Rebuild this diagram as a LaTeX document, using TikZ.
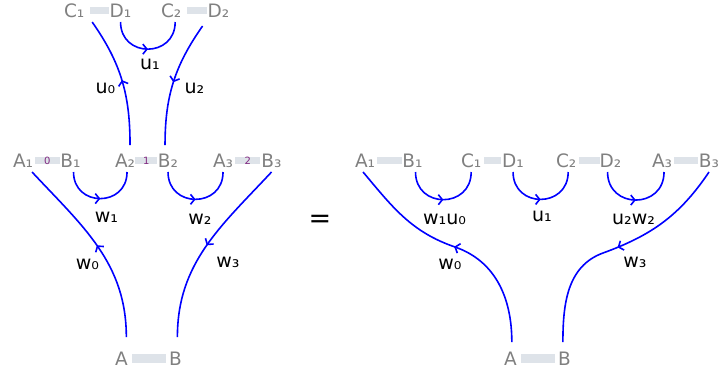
\documentclass[tikz,border=0pt]{standalone}
\usepackage{fontspec}
\setmainfont{DejaVu Sans}
\usepackage{xcolor}
\usetikzlibrary{arrows.meta,positioning,decorations.markings}
\definecolor{lblgray}{RGB}{128,128,128}
\definecolor{bondfill}{RGB}{222,227,233}
\definecolor{idxpurple}{RGB}{128,40,128}

\begin{document}
\begin{tikzpicture}[
  x=1pt, y=1pt,
  lbl/.style={text=lblgray, font=\fontsize{18.5}{20}\selectfont, inner sep=0pt,
              text height=13pt, text depth=0pt, outer xsep=0pt, outer ysep=5pt},
  bond/.style={fill=bondfill, inner sep=0pt, minimum height=7.5pt,
               text=idxpurple, font=\fontsize{10}{10}\selectfont},
  tag/.style={font=\fontsize{19}{21}\selectfont, inner sep=0pt, anchor=base},
  leg/.style={blue, line width=1.6pt},
  midar/.style={leg, postaction={decorate}, decoration={markings,
      mark=at position 0.5 with {\arrow{Straight Barb[length=4pt,width=10pt,line width=1.6pt]}}}},
  cup/.style={midar, out=-90, in=-90, looseness=1.7},
]
\useasboundingbox (0,0) rectangle (720,-376);

% ---------------- left side: u layer on top of w layer ----------------
\node[lbl, anchor=base west] (lC1) at (64,-17) {C₁};
\node[bond, minimum width=19pt, right=5pt of lC1] (lcd1) {};
\node[lbl, right=1pt of lcd1] (lD1) {D₁};
\node[lbl, anchor=base west] (lC2) at (161,-17) {C₂};
\node[bond, minimum width=20pt, right=5pt of lC2] (lcd2) {};
\node[lbl, right=1pt of lcd2] (lD2) {D₂};

\node[lbl, anchor=base west] (lA1) at (13,-167) {A₁};
\node[bond, minimum width=25pt, right=1.5pt of lA1] (lb0) {0};
\node[lbl, right=0.5pt of lb0] (lB1) {B₁};
\node[lbl, anchor=base west] (lA2) at (115,-167) {A₂};
\node[bond, minimum width=22pt, right=0pt of lA2] (lb1) {1};
\node[lbl, right=0.5pt of lb1] (lB2) {B₂};
\node[lbl, anchor=base west] (lA3) at (213,-167) {A₃};
\node[bond, minimum width=25pt, right=2pt of lA3] (lb2) {2};
\node[lbl, right=1pt of lb2] (lB3) {B₃};

\node[lbl, anchor=base west] (lA) at (115,-365) {A};
\node[bond, minimum width=34pt, minimum height=9pt, right=4pt of lA] (lab) {};
\node[lbl, right=3pt of lab] (lB) {B};

\draw[midar] ([xshift=5pt,yshift=4pt]lA2.north) to[out=90, in=-55]
  ([xshift=18pt]lC1.south);
\draw[midar] ([xshift=-16pt,yshift=-4pt]lD2.south) to[out=-125, in=90]
  ([xshift=-3pt,yshift=4pt]lB2.north);
\draw[cup] (lD1.south) to ([xshift=4pt]lC2.south);
\draw[cup] ([xshift=3pt]lB1.south) to ([xshift=2pt]lA2.south);
\draw[cup] (lB2.south) to (lA3.south);
\draw[midar] ([xshift=5pt,yshift=10pt]lA.north) to[out=90, in=-47]
  ([xshift=9pt]lA1.south);
\draw[midar] (lB3.south) to[out=-133, in=90]
  ([xshift=2pt,yshift=10pt]lB.north);

\node[tag] (lu0) at (105.5,-93) {u₀};
\node[tag] (lu1) at (150,-69) {u₁};
\node[tag] (lu2) at (194.5,-93) {u₂};
\node[tag] (lw1) at (106.5,-222.5) {w₁};
\node[tag] (lw2) at (200,-224) {w₂};
\node[tag] (lw0) at (87.5,-269.5) {w₀};
\node[tag] (lw3) at (228,-267) {w₃};

\node[font=\fontsize{27}{30}\selectfont, inner sep=0pt] (eq) at (320,-221) {=};

% ---------------- right side: contracted ----------------
\node[lbl, anchor=base west] (rA1) at (355,-167) {A₁};
\node[bond, minimum width=25pt, right=1.5pt of rA1] (rb1) {};
\node[lbl, right=0.5pt of rb1] (rB1) {B₁};
\node[lbl, anchor=base west] (rC1) at (461,-167) {C₁};
\node[bond, minimum width=17pt, right=2.5pt of rC1] (rcd1) {};
\node[lbl, right=1pt of rcd1] (rD1) {D₁};
\node[lbl, anchor=base west] (rC2) at (556,-167) {C₂};
\node[bond, minimum width=21pt, right=2pt of rC2] (rcd2) {};
\node[lbl, right=0pt of rcd2] (rD2) {D₂};
\node[lbl, anchor=base west] (rA3) at (652,-167) {A₃};
\node[bond, minimum width=24pt, right=2pt of rA3] (rb3) {};
\node[lbl, right=0.5pt of rb3] (rB3) {B₃};

\node[lbl, anchor=base west] (rA) at (504,-365) {A};
\node[bond, minimum width=34pt, minimum height=9pt, right=4pt of rA] (rab) {};
\node[lbl, right=3pt of rab] (rB) {B};

\coordinate (w0bend) at (455,-247);
\coordinate (w3bend) at (603,-253);

\draw[cup] ([xshift=3pt]rB1.south) to (rC1.south);
\draw[cup] (rD1.south) to ([xshift=2pt]rC2.south);
\draw[cup] ([xshift=-3pt]rD2.south) to ([xshift=2pt]rA3.south);
\draw[midar] ([xshift=1.5pt,yshift=5pt]rA.north) to[out=90, in=-19] (w0bend)
  to[out=161, in=-50] ([xshift=-2pt]rA1.south);
\draw[midar] (rB3.south) to[out=-124, in=20] (w3bend)
  to[out=-160, in=90] ([xshift=-1.5pt,yshift=5pt]rB.north);

\node[tag] (rw1u0) at (444.5,-224.5) {w₁u₀};
\node[tag] (ru1) at (542,-221.5) {u₁};
\node[tag] (ru2w2) at (633.5,-224.5) {u₂w₂};
\node[tag] (rw0) at (450,-269.5) {w₀};
\node[tag] (rw3) at (635,-267) {w₃};
\end{tikzpicture}
\end{document}
